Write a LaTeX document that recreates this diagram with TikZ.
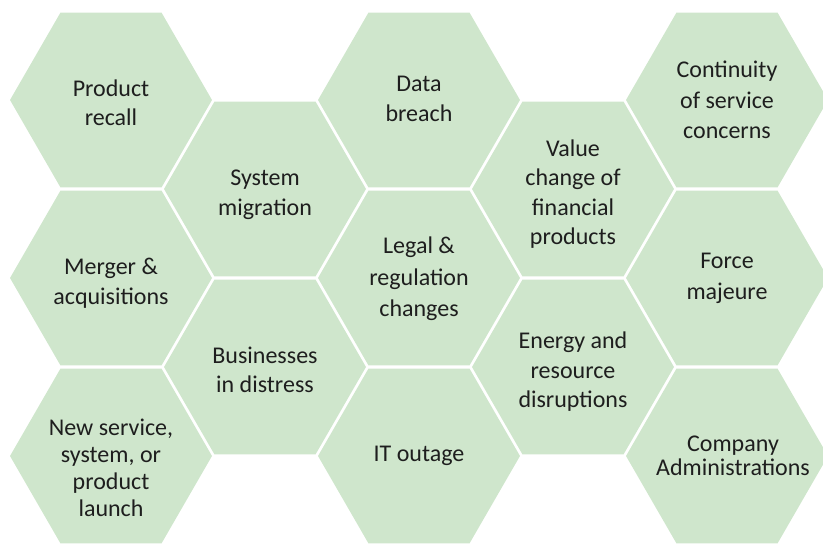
\documentclass[tikz,border=0pt]{standalone}
\usepackage{fontspec}
\setmainfont{Carlito}
\usetikzlibrary{shapes.geometric}
\definecolor{hexfill}{RGB}{207,230,204}
\definecolor{hextext}{RGB}{30,30,30}
\tikzset{
  hexa/.style={regular polygon, regular polygon sides=6, minimum size=202pt,
    inner sep=0pt, outer sep=0pt, fill=hexfill, draw=none},
  txt/.style={text=hextext, align=center, inner sep=0pt,
    font=\fontsize{24}{29.5}\selectfont},
  lsp/.style={font=\fontsize{24}{#1}\selectfont}
}
\begin{document}
\begin{tikzpicture}[x=1pt,y=-1pt]
\useasboundingbox (0,0) rectangle (823,545);
% hexagons
\node[hexa] (pr) at (111,100) {};
\node[hexa] (ma) at (111,278) {};
\node[hexa] (ns) at (111,456) {};
\node[hexa] (sm) at (265,189) {};
\node[hexa] (bd) at (265,367) {};
\node[hexa] (db) at (419,100) {};
\node[hexa] (lr) at (419,278) {};
\node[hexa] (it) at (419,456) {};
\node[hexa] (vc) at (573,189) {};
\node[hexa] (er) at (573,367) {};
\node[hexa] (cs) at (727,100) {};
\node[hexa] (fm) at (727,278) {};
\node[hexa] (ca) at (727,456) {};
% texts
\node[txt] (prt) at ([yshift=-3pt]pr.center) {Product\\recall};
\node[txt] (mat) at ([yshift=-5pt]ma.center) {Merger \&\\acquisitions};
\node[txt,lsp=27] (nst) at ([yshift=-12pt]ns.center) {New service,\\system, or\\product\\launch};
\node[txt] (smt) at ([yshift=-6pt]sm.center) {System\\migration};
\node[txt] (bdt) at ([yshift=-3pt]bd.center) {Businesses\\in distress};
\node[txt] (dbt) at ([yshift=1pt]db.center) {Data\\breach};
\node[txt,lsp=31.5] (lrt) at ([yshift=-1pt]lr.center) {Legal \&\\regulation\\changes};
\node[txt] (itt) at (it.center) {IT outage};
\node[txt] (vct) at ([yshift=-5pt]vc.center) {Value\\change of\\financial\\products};
\node[txt] (ert) at ([yshift=-5pt]er.center) {Energy and\\resource\\disruptions};
\node[txt,lsp=30.5] (cst) at ([yshift=0pt]cs.center) {Continuity\\of service\\concerns};
\node[txt,lsp=31] (fmt) at ([yshift=0pt]fm.center) {Force\\majeure};
\node[txt,lsp=24.5] (cat) at ([xshift=6pt]ca.center) {Company\\Administrations};
\end{tikzpicture}
\end{document}
